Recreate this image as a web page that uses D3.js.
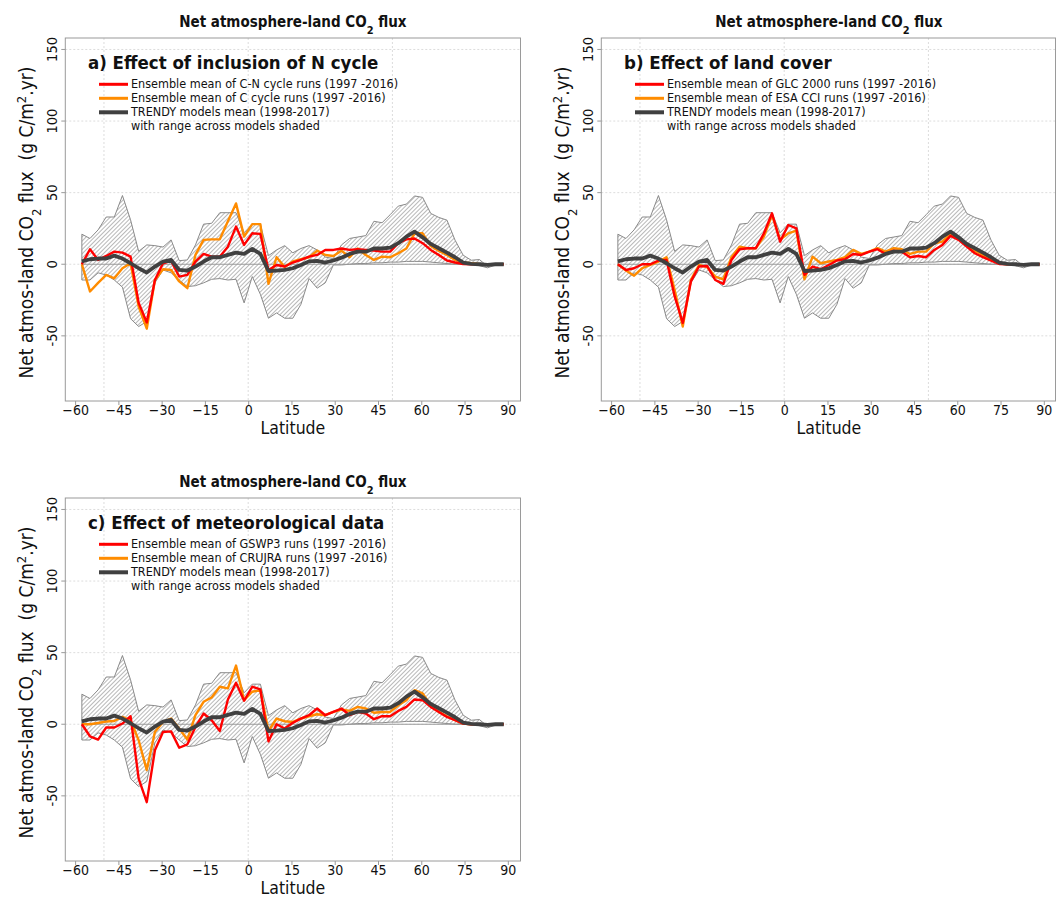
<!DOCTYPE html>
<html><head><meta charset="utf-8">
<script src="https://cdn.jsdelivr.net/npm/d3@7"></script>
<style>body{margin:0;background:#fff}svg{display:block}</style>
</head><body>
<svg id="c" width="1056" height="897"></svg>
<script>
// ---------------- data ----------------
const latitudes = [-57.66,-54.84,-52.03,-49.22,-46.41,-43.59,-40.78,-37.97,-35.16,-32.34,-29.53,-26.72,-23.91,-21.09,-18.28,-15.47,-12.66,-9.84,-7.03,-4.22,-1.41,1.41,4.22,7.03,9.84,12.66,15.47,18.28,21.09,23.91,26.72,29.53,32.34,35.16,37.97,40.78,43.59,46.41,49.22,52.03,54.84,57.66,60.47,63.28,66.09,68.91,71.72,74.53,77.34,80.16,82.97,85.78,88.59];
const trendyUpper = [21,18,24,33,33,48,31,9,13.5,13,12,17,2.5,3,13.5,28,28.6,36,36,36,22,28,28,6,10,13,8,11,13,10,5,4,13.5,18,19,20,30,29,34.6,40.6,42,47.7,46.7,35.5,32.7,30.8,16.8,6.3,2.8,3.3,-1.5,0,0];
const trendyLower = [-11,-11,-6,-7.5,-11,-16,-38,-43.5,-40,-13,-4,-6,-11,-15.6,-15,-13,-10.5,-10,-11,-10.5,-27,-8.6,-21,-37.7,-34,-37.7,-37.7,-28,-10,-16.7,-13,-0.5,-0.5,0,0.5,0.5,1,1,1.5,1.5,2,2,2,1.5,1,0.5,0,0,0,-1,-2.5,-0.5,0];
const trendyMean = [2,3.5,4,4,6,4,0.7,-2.8,-5.8,-1.6,1.9,3,-4,-4.4,-1.6,1.9,4.9,4.9,6.5,8.1,7.2,10.7,7.2,-4.7,-4.4,-4,-2.8,-0.5,2,2.3,1.2,2.6,4.6,7.2,8.8,8.8,11,11,11.6,14.7,19.3,22.8,18.8,14.2,11.2,8.1,4.9,1.2,0.2,0,-0.5,0,0];
const aRed = [0,10.5,3,5.8,8.8,8.1,5.3,-27,-40.7,-11,0.7,2.3,-8.6,-7.4,1.9,7.2,5.3,5.3,12.3,26.3,13.5,21.6,21.2,-4,-0.5,-1.6,1.2,3,5.3,6.5,10,10,11,10,10.5,10,9.5,8.8,8.8,14.7,17.4,18,14.7,10,6.5,2.6,1.2,0.2,0,0,0,0,0];
const aOrange = [0,-19,-13,-7.4,-9.8,-2.8,0.7,-29.5,-45,-11,-3.5,-4,-12,-16.7,6.5,17,17.4,17.4,30,42.5,19.3,28,28,-13.7,4.9,-2,1.9,3.5,4.9,9.5,6.5,5.8,9.5,4.9,11,6.5,3,5.3,4.9,7.7,11,21.6,21.6,12.8,9.3,6.5,3,1.2,0.7,0.2,0,0,0];
const bRed = [0,-4,-2.8,0,0,2.6,3,-22.5,-41,-12,-1.6,-1.2,-11,-13.7,3,10.5,11.2,11.2,21.6,35.6,15.8,27.4,25,-7.4,-1.6,-3.5,-0.5,2.6,3.5,7.2,6.5,8.8,10.5,7.2,9.5,8.8,4.9,5.8,4.9,10,13.5,19.8,17,12.3,7.7,4.9,2.6,0.2,0,0,0,0,0];
const bOrange = [0,-4.4,-8,-2.8,-0.5,1.9,4.9,-18,-43.5,-10.9,-0.5,-2,-8.6,-10.5,4.9,12.3,11.2,11.2,19.3,34.4,17,21.6,23.5,-10.5,5.3,0.7,1.9,3,4.9,10,7.2,8.8,11.2,8.8,11.2,10.5,7.2,8.8,8.8,14.7,15.8,21.2,18.1,13.5,9.5,6.5,3.5,0.7,0,0,0,0,0];
const cRed = [0,-8.4,-10.7,-2.3,-2.3,0.5,5.6,-38,-54.4,-18.2,-5.4,-5,-16.4,-14,-1.9,7.5,2.8,-4.7,17.3,29,16.4,26.2,24.3,-12,0,-3,1,4,6.3,11,6.3,8.6,11,6.3,8.6,7.5,3.5,5.6,5.6,9.3,12.1,17.3,16.8,12.1,8.6,5.1,2.8,0.5,0,0,0,0,0];
const cOrange = [0,0,0.9,1.9,2.3,5.1,2.8,-11.2,-32,-5.4,1.6,4,-3,-10.7,6.3,15.7,18.7,26.2,25,41,16.8,22.7,23.8,-4.7,4,2.1,1.6,4,5.6,7,6.3,8.6,10.3,9.3,12.1,11,8,8.6,8.6,13.3,16.8,23.8,21.5,13.3,8.6,5.6,2.8,0.5,0,0,0,0,0];

const xTicks = [-60,-45,-30,-15,0,15,30,45,60,75,90];
const yTicks = [-50,0,50,100,150];
const xGrid = [-50,0,50];
const panelLetters = ["a) Effect of inclusion of N cycle","b) Effect of land cover","c) Effect of meteorological data"];
const legendA = ["Ensemble mean of C-N cycle runs (1997 -2016)","Ensemble mean of C cycle runs (1997 -2016)"];
const legendB = ["Ensemble mean of GLC 2000 runs (1997 -2016)","Ensemble mean of ESA CCI runs (1997 -2016)"];
const legendC = ["Ensemble mean of GSWP3 runs (1997 -2016)","Ensemble mean of CRUJRA runs (1997 -2016)"];
const legendTrendy = ["TRENDY models mean (1998-2017)","with range across models shaded"];

// ---------------- drawing ----------------
const FONT = "'DejaVu Sans Condensed','DejaVu Sans',sans-serif";
const svg = d3.select('#c');
svg.append('rect').attr('width',1056).attr('height',897).attr('fill','#fff');
const defs = svg.append('defs');
const pat = defs.append('pattern').attr('id','hatch').attr('patternUnits','userSpaceOnUse')
  .attr('width',3).attr('height',3).attr('patternTransform','rotate(45)');
pat.append('rect').attr('width',3).attr('height',3).attr('fill','#fff');
pat.append('line').attr('x1',0.5).attr('y1',0).attr('x2',0.5).attr('y2',3)
  .attr('stroke','#a6a6a6').attr('stroke-width',0.8);

const panels = [
  {dx:0,   dy:0,   letter:panelLetters[0], red:aRed, orange:aOrange, legend:legendA},
  {dx:536, dy:0,   letter:panelLetters[1], red:bRed, orange:bOrange, legend:legendB},
  {dx:0,   dy:460, letter:panelLetters[2], red:cRed, orange:cOrange, legend:legendC}
];

function drawPanel(p){
  const g = svg.append('g').attr('transform',`translate(${p.dx},${p.dy})`).style('font-family',FONT);
  const x = d3.scaleLinear().domain([-63.4,94.4]).range([65.3,520.5]);
  const y = d3.scaleLinear().domain([-95.5,158]).range([401,38]);
  const [x0,x1] = x.range(), [y1,y0] = y.range();
  const right = Math.min(x1, 1055.5 - p.dx);

  // title
  const t = g.append('text').attr('x',(x0+x1)/2).attr('y',27).attr('text-anchor','middle')
    .attr('font-size',15).attr('font-weight','bold').attr('fill','#111');
  t.append('tspan').text('Net atmosphere-land CO');
  t.append('tspan').attr('baseline-shift','sub').attr('font-size',11).text('2');
  t.append('tspan').text(' flux');

  // grid
  g.selectAll('.hg').data(yTicks).join('line')
    .attr('x1',x0).attr('x2',right).attr('y1',d=>y(d)).attr('y2',d=>y(d))
    .attr('stroke','#dcdcdc').attr('stroke-width',1).attr('stroke-dasharray','2,2');
  g.selectAll('.vg').data(xGrid).join('line')
    .attr('x1',d=>x(d)).attr('x2',d=>x(d)).attr('y1',y0).attr('y2',y1)
    .attr('stroke','#dcdcdc').attr('stroke-width',1).attr('stroke-dasharray','2,2');

  // envelope
  const area = d3.area().x((d,i)=>x(latitudes[i])).y0((d,i)=>y(trendyLower[i])).y1(d=>y(d));
  g.append('path').datum(trendyUpper).attr('d',area)
    .attr('fill','url(#hatch)').attr('stroke','#8a8a8a').attr('stroke-width',1);

  // zero reference across the data extent
  g.append('line').attr('x1',x(latitudes[0])).attr('x2',x(latitudes[latitudes.length-1]))
    .attr('y1',y(0)).attr('y2',y(0)).attr('stroke','#9a9a9a').attr('stroke-width',1.2);

  const line = d3.line().x((d,i)=>x(latitudes[i])).y(d=>y(d));
  g.append('path').datum(p.orange).attr('d',line).attr('fill','none').attr('stroke','#ff8c00').attr('stroke-width',2.4).attr('stroke-linejoin','round');
  g.append('path').datum(p.red).attr('d',line).attr('fill','none').attr('stroke','#ff0000').attr('stroke-width',2.4).attr('stroke-linejoin','round');
  g.append('path').datum(trendyMean).attr('d',line).attr('fill','none').attr('stroke','#404040').attr('stroke-width',3.8).attr('stroke-linejoin','round');

  // frame
  g.append('rect').attr('x',x0).attr('y',y0).attr('width',right-x0).attr('height',y1-y0)
    .attr('fill','none').attr('stroke','#9a9a9a').attr('stroke-width',1);

  // x axis
  const xa = g.append('g').attr('transform',`translate(0,${y1})`)
    .call(d3.axisBottom(x).tickValues(xTicks).tickSize(4).tickPadding(0).tickFormat(d3.format('d')));
  xa.select('.domain').remove();
  xa.selectAll('line').attr('stroke','#9a9a9a');
  xa.selectAll('text').attr('font-size',14).attr('font-family',FONT).attr('fill','#111');
  g.append('text').attr('x',(x0+x1)/2).attr('y',434).attr('text-anchor','middle')
    .attr('font-size',17.5).attr('fill','#111').text('Latitude');

  // y axis (rotated labels)
  g.selectAll('.yt').data(yTicks).join('line')
    .attr('x1',x0-4).attr('x2',x0).attr('y1',d=>y(d)).attr('y2',d=>y(d)).attr('stroke','#9a9a9a');
  g.selectAll('.yl').data(yTicks).join('text')
    .attr('transform',d=>`translate(${x0-8},${y(d)}) rotate(-90)`)
    .attr('text-anchor','middle').attr('font-size',14.5).attr('fill','#111').text(d=>d);
  const yt = g.append('text').attr('transform',`translate(33,${(y0+y1)/2+3}) rotate(-90)`)
    .attr('text-anchor','middle').attr('font-size',19).attr('fill','#111');
  yt.append('tspan').text('Net atmos-land CO');
  yt.append('tspan').attr('baseline-shift','sub').attr('font-size',13).text('2');
  yt.append('tspan').text(' flux\u00a0\u00a0(g C/m');
  yt.append('tspan').attr('baseline-shift','super').attr('font-size',13).text('2');
  yt.append('tspan').text('.yr)');

  // subtitle and legend
  g.append('text').attr('x',88).attr('y',69).attr('font-size',18.5).attr('font-weight','bold')
    .attr('fill','#111').text(p.letter);
  const items = [
    {c:'#ff0000', w:3, label:p.legend[0]},
    {c:'#ff8c00', w:3, label:p.legend[1]},
    {c:'#404040', w:4, label:legendTrendy[0]}
  ];
  items.forEach((it,k)=>{
    const ly = 84.3 + k*14;
    g.append('line').attr('x1',99).attr('x2',128).attr('y1',ly).attr('y2',ly)
      .attr('stroke',it.c).attr('stroke-width',it.w);
    g.append('text').attr('x',131).attr('y',ly+4).attr('font-size',12.5).attr('fill','#111').text(it.label);
  });
  g.append('text').attr('x',131).attr('y',84.3+3*14+4).attr('font-size',12.5).attr('fill','#111').text(legendTrendy[1]);
}
panels.forEach(drawPanel);
</script>
</body></html>
